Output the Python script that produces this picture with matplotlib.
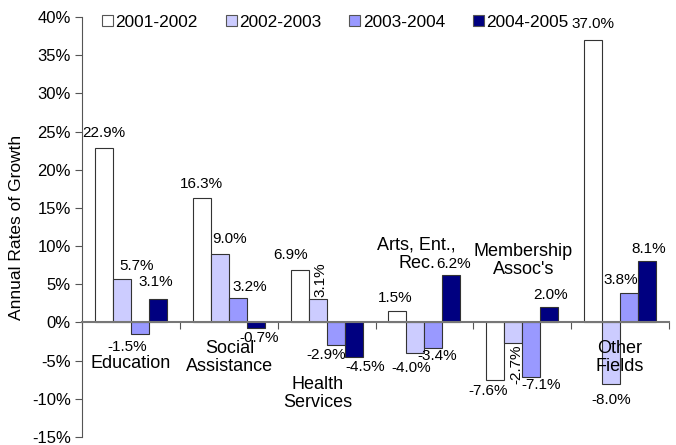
import matplotlib
matplotlib.use('Agg')
import matplotlib.pyplot as plt
import numpy as np

plt.rcParams['font.family'] = ['Liberation Sans', 'DejaVu Sans']

kategorije = ['Education', 'Social\nAssistance', 'Health\nServices',
              'Arts, Ent.,\nRec.', 'Membership\nAssoc\'s', 'Other\nFields']
obdobja = ['2001-2002', '2002-2003', '2003-2004', '2004-2005']

rast_01_02 = [22.9, 16.3, 6.9, 1.5, -7.6, 37.0]
rast_02_03 = [5.7, 9.0, 3.1, -4.0, -2.7, -8.0]
rast_03_04 = [-1.5, 3.2, -2.9, -3.4, -7.1, 3.8]
rast_04_05 = [3.1, -0.7, -4.5, 6.2, 2.0, 8.1]

y_ticks = [-15, -10, -5, 0, 5, 10, 15, 20, 25, 30, 35, 40]

# postavitev (px) oznak podatkov glede na konec stolpca
premiki = [
    [(0, 15), (0, 13.5), (-9, 15), (-2, 13.5), (-7, -11), (0, 15.5)],
    [(15, 12.5), (10, 15), (3, 19), (-4, -14.5), (3, -21), (0, -16)],
    [(-13, -13.5), (12, 10.6), (-9, -10), (4, -8), (10, -8), (-8, 13)],
    [(-2, 17), (3, -10.7), (12, -10.6), (2, 10.7), (1, 11.7), (2, 12)],
]
zasuki = [
    [0, 0, 0, 0, 0, 0],
    [0, 0, 90, 0, 90, 0],
    [0, 0, 0, 0, 0, 0],
    [0, 0, 0, 0, 0, 0],
]
# položaji imen kategorij (podatkovne koordinate)
pozicije_imen = [(0.0, -5.4), (1.01, -4.6), (1.91, -9.3),
                 (2.92, 8.9), (4.01, 8.1), (5.0, -4.6)]

barve = ['#FFFFFF', '#CCCCFF', '#9999FF', '#000080']

fig = plt.figure(figsize=(6.76, 4.45), dpi=100)
ax = fig.add_axes([82 / 676, 1 - 437 / 445, (669 - 82) / 676, (437 - 17) / 445])

serije = [rast_01_02, rast_02_03, rast_03_04, rast_04_05]
x = np.arange(len(kategorije))
w = 0.184

for j, vrednosti in enumerate(serije):
    pos = x + (j - 1.5) * w
    ax.bar(pos, vrednosti, width=w, color=barve[j], edgecolor='#333333',
           linewidth=0.8, label=obdobja[j], zorder=2)
    for i, v in enumerate(vrednosti):
        dx, dy = premiki[j][i]
        ax.annotate(f'{v:.1f}%', (pos[i], v), xytext=(dx, dy),
                    textcoords='offset pixels', ha='center', va='center',
                    fontsize=11, rotation=zasuki[j][i], zorder=4)

for ime, (px, py) in zip(kategorije, pozicije_imen):
    ax.text(px, py, ime, ha='center', va='center', fontsize=13,
            linespacing=1.1, zorder=3)

ax.set_xlim(-0.5, len(kategorije) - 0.5)
ax.set_ylim(-15, 40)
ax.set_yticks(y_ticks)
ax.set_yticklabels([f'{t}%' for t in y_ticks], fontsize=12)
ax.set_xticks(np.arange(len(kategorije) + 1) - 0.5)
ax.set_xticklabels([])
ax.tick_params(axis='y', direction='out', length=5, color='#555555', pad=3)
ax.tick_params(axis='x', direction='out', length=5, color='#555555')

for s in ['top', 'right']:
    ax.spines[s].set_visible(False)
ax.spines['bottom'].set_position(('data', 0))
ax.spines['bottom'].set_color('#777777')
ax.spines['bottom'].set_linewidth(1.5)
ax.spines['bottom'].set_zorder(3)
ax.spines['left'].set_color('#555555')

ax.set_ylabel('Annual Rates of Growth', fontsize=12.5, labelpad=6)

leg = ax.legend(loc='upper left', bbox_to_anchor=(0.022, 1.022), ncol=4,
                frameon=False, fontsize=12.4, handlelength=0.65,
                handleheight=0.65, handletextpad=0.15, columnspacing=1.6,
                borderaxespad=0)
for h in leg.legend_handles:
    h.set_edgecolor('#555555')

fig.savefig('out.png', dpi=100)
